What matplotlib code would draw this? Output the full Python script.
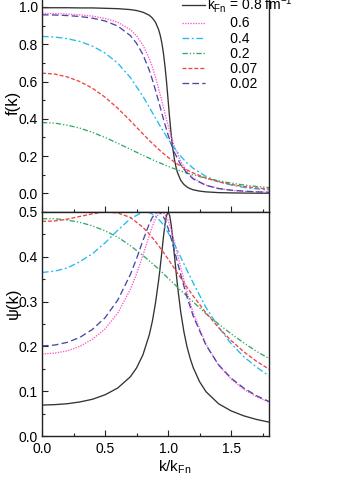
import matplotlib
matplotlib.use("Agg")
import matplotlib.pyplot as plt
from matplotlib.ticker import MultipleLocator, FormatStrFormatter

plt.rcParams['font.family'] = ['Liberation Sans', 'DejaVu Sans']
plt.rcParams['mathtext.fontset'] = 'custom'
plt.rcParams['mathtext.rm'] = 'Liberation Sans'
plt.rcParams['mathtext.it'] = 'Liberation Sans'

# ---------------- data ----------------
x_black = [0, 0.1, 0.2, 0.3, 0.4, 0.5, 0.6, 0.7, 0.75, 0.8, 0.85, 0.875, 0.9, 0.925, 0.9375,
           0.95, 0.9625, 0.975, 0.9875, 1.0, 1.0125, 1.025, 1.0375, 1.05, 1.0625, 1.075, 1.1,
           1.125, 1.15, 1.175, 1.2, 1.25, 1.3, 1.4, 1.5, 1.6, 1.7, 1.8]
x_fine = [0, 0.1, 0.2, 0.3, 0.4, 0.5, 0.6, 0.7, 0.75, 0.8, 0.85, 0.875, 0.9, 0.925, 0.95,
          0.975, 1.0, 1.025, 1.05, 1.1, 1.15, 1.2, 1.3, 1.4, 1.5, 1.6, 1.7, 1.8]
x_k = [0, 0.1, 0.2, 0.3, 0.4, 0.5, 0.6, 0.7, 0.8, 0.85, 0.9, 0.95, 1.0, 1.05, 1.1,
       1.15, 1.2, 1.3, 1.4, 1.5, 1.6, 1.7, 1.8]

f_08 = [0.996, 0.996, 0.996, 0.995, 0.995, 0.993, 0.991, 0.986, 0.981, 0.972, 0.956, 0.941,
        0.918, 0.878, 0.848, 0.808, 0.754, 0.684, 0.598, 0.500, 0.401, 0.312, 0.239, 0.183,
        0.141, 0.110, 0.070, 0.048, 0.034, 0.025, 0.019, 0.012, 0.008, 0.004, 0.0025,
        0.0016, 0.0011, 0.0008]
psi_08 = [0.069, 0.070, 0.072, 0.076, 0.082, 0.092, 0.107, 0.132, 0.152, 0.181, 0.225, 0.256,
          0.297, 0.348, 0.378, 0.410, 0.443, 0.472, 0.492, 0.500, 0.492, 0.470, 0.439, 0.403,
          0.368, 0.334, 0.277, 0.233, 0.199, 0.173, 0.152, 0.121, 0.099, 0.072, 0.056,
          0.045, 0.037, 0.031]

f_06 = [0.965, 0.965, 0.962, 0.958, 0.951, 0.939, 0.918, 0.879, 0.845, 0.796, 0.724, 0.678,
        0.623, 0.562, 0.497, 0.429, 0.364, 0.304, 0.252, 0.171, 0.117, 0.082, 0.044, 0.026,
        0.016, 0.011, 0.008, 0.006]
psi_06 = [0.183, 0.185, 0.190, 0.200, 0.216, 0.239, 0.274, 0.327, 0.362, 0.403, 0.447, 0.468,
          0.485, 0.496, 0.500, 0.495, 0.481, 0.460, 0.434, 0.376, 0.321, 0.274, 0.205, 0.158,
          0.127, 0.104, 0.088, 0.075]

f_04 = [0.842, 0.839, 0.830, 0.815, 0.790, 0.753, 0.699, 0.622, 0.521, 0.463, 0.404, 0.346,
        0.291, 0.242, 0.199, 0.163, 0.134, 0.091, 0.063, 0.045, 0.032, 0.024, 0.018]
psi_04 = [0.365, 0.368, 0.375, 0.389, 0.407, 0.431, 0.459, 0.485, 0.500, 0.499, 0.491, 0.476,
          0.454, 0.428, 0.399, 0.370, 0.341, 0.287, 0.243, 0.206, 0.177, 0.154, 0.134]

f_02 = [0.380, 0.377, 0.366, 0.350, 0.327, 0.300, 0.269, 0.237, 0.204, 0.189, 0.173, 0.159,
        0.145, 0.132, 0.120, 0.109, 0.099, 0.081, 0.067, 0.055, 0.045, 0.037, 0.031]
psi_02 = [0.485, 0.485, 0.482, 0.477, 0.469, 0.458, 0.444, 0.425, 0.403, 0.391, 0.379, 0.366,
          0.352, 0.339, 0.325, 0.312, 0.299, 0.273, 0.250, 0.228, 0.208, 0.189, 0.173]

f_007 = [0.645, 0.640, 0.625, 0.600, 0.564, 0.516, 0.457, 0.390, 0.319, 0.285, 0.252, 0.221,
         0.193, 0.168, 0.146, 0.126, 0.109, 0.082, 0.062, 0.048, 0.037, 0.029, 0.023]
psi_007 = [0.479, 0.480, 0.484, 0.490, 0.496, 0.500, 0.498, 0.488, 0.466, 0.451, 0.434, 0.415,
           0.395, 0.374, 0.353, 0.332, 0.312, 0.275, 0.242, 0.213, 0.188, 0.167, 0.149]

f_002 = [0.958, 0.957, 0.954, 0.949, 0.940, 0.925, 0.898, 0.847, 0.805, 0.745, 0.662, 0.610,
         0.553, 0.493, 0.430, 0.370, 0.313, 0.263, 0.220, 0.153, 0.108, 0.077, 0.043, 0.026,
         0.017, 0.012, 0.008, 0.006]
psi_002 = [0.201, 0.203, 0.209, 0.220, 0.238, 0.264, 0.303, 0.360, 0.396, 0.436, 0.473, 0.488,
           0.497, 0.500, 0.495, 0.483, 0.464, 0.440, 0.414, 0.360, 0.310, 0.267, 0.203, 0.159,
           0.129, 0.107, 0.090, 0.077]

labels = [r'$k_{Fn}$ = 0.8 fm$^{-1}$', '      0.6', '      0.4', '      0.2', '      0.07', '      0.02']

# ---------------- styles ----------------
series = [
    (x_black, f_08, psi_08, '#333333', '-'),
    (x_fine, f_06, psi_06, '#ff55cc', (0, (1, 1))),
    (x_k, f_04, psi_04, '#22bbee', (0, (5, 2, 1.5, 2))),
    (x_k, f_02, psi_02, '#33aa66', (0, (4, 1.5, 1, 1.5, 1, 1.5))),
    (x_k, f_007, psi_007, '#ee4444', (0, (3, 1.5))),
    (x_fine, f_002, psi_002, '#4848aa', (0, (5, 2.5))),
]

fig = plt.figure(figsize=(3.38, 4.95), dpi=100)
L, W = 42 / 338, 227 / 338
ax1 = fig.add_axes([L, 283 / 495, W, 223.65 / 495])
ax2 = fig.add_axes([L, 59 / 495, W, 224 / 495])

for (xs, fv, pv, c, ls), lab in zip(series, labels):
    ax1.plot(xs, fv, color=c, ls=ls, lw=0.95, label=lab)
    ax2.plot(xs, pv, color=c, ls=ls, lw=0.95)

for ax in (ax1, ax2):
    ax.set_xlim(0, 1.8)
    ax.xaxis.set_major_locator(MultipleLocator(0.5))
    ax.xaxis.set_minor_locator(MultipleLocator(0.25))
    ax.yaxis.set_major_formatter(FormatStrFormatter('%.1f'))
    ax.xaxis.set_major_formatter(FormatStrFormatter('%.1f'))
    ax.tick_params(which='both', direction='in', top=False, right=False,
                   labelsize=10, pad=3, color='#222222')
    ax.tick_params(which='major', length=4.5, width=0.8)
    ax.tick_params(which='minor', length=2.5, width=0.8)
    for s in ax.spines.values():
        s.set_linewidth(1.0)
        s.set_color('#222222')

ax1.set_ylim(-0.1, 1.1)
ax1.yaxis.set_major_locator(MultipleLocator(0.2))
ax1.yaxis.set_minor_locator(MultipleLocator(0.1))
ax1.tick_params(labelbottom=False)
ax1.set_ylabel('f(k)', fontsize=12, va='center')
ax1.yaxis.set_label_coords(-0.128, 0.487)

ax2.set_ylim(0, 0.5)
ax2.yaxis.set_major_locator(MultipleLocator(0.1))
ax2.yaxis.set_minor_locator(MultipleLocator(0.05))
ax2.tick_params(which='major', axis='x', pad=4)
ax2.set_ylabel('ψ(k)', fontsize=12, va='center')
ax2.yaxis.set_label_coords(-0.128, 0.594)
ax2.set_xlabel(r'k/k$_{\rm Fn}$', fontsize=11)
ax2.xaxis.set_label_coords(0.586, -0.10)

ax1.legend(loc='upper left', bbox_to_anchor=(0.617, 0.973), frameon=False,
           fontsize=10, handlelength=1.65, handletextpad=0.15, labelspacing=0.08,
           borderpad=0, borderaxespad=0)

fig.savefig('out.png', dpi=100)
